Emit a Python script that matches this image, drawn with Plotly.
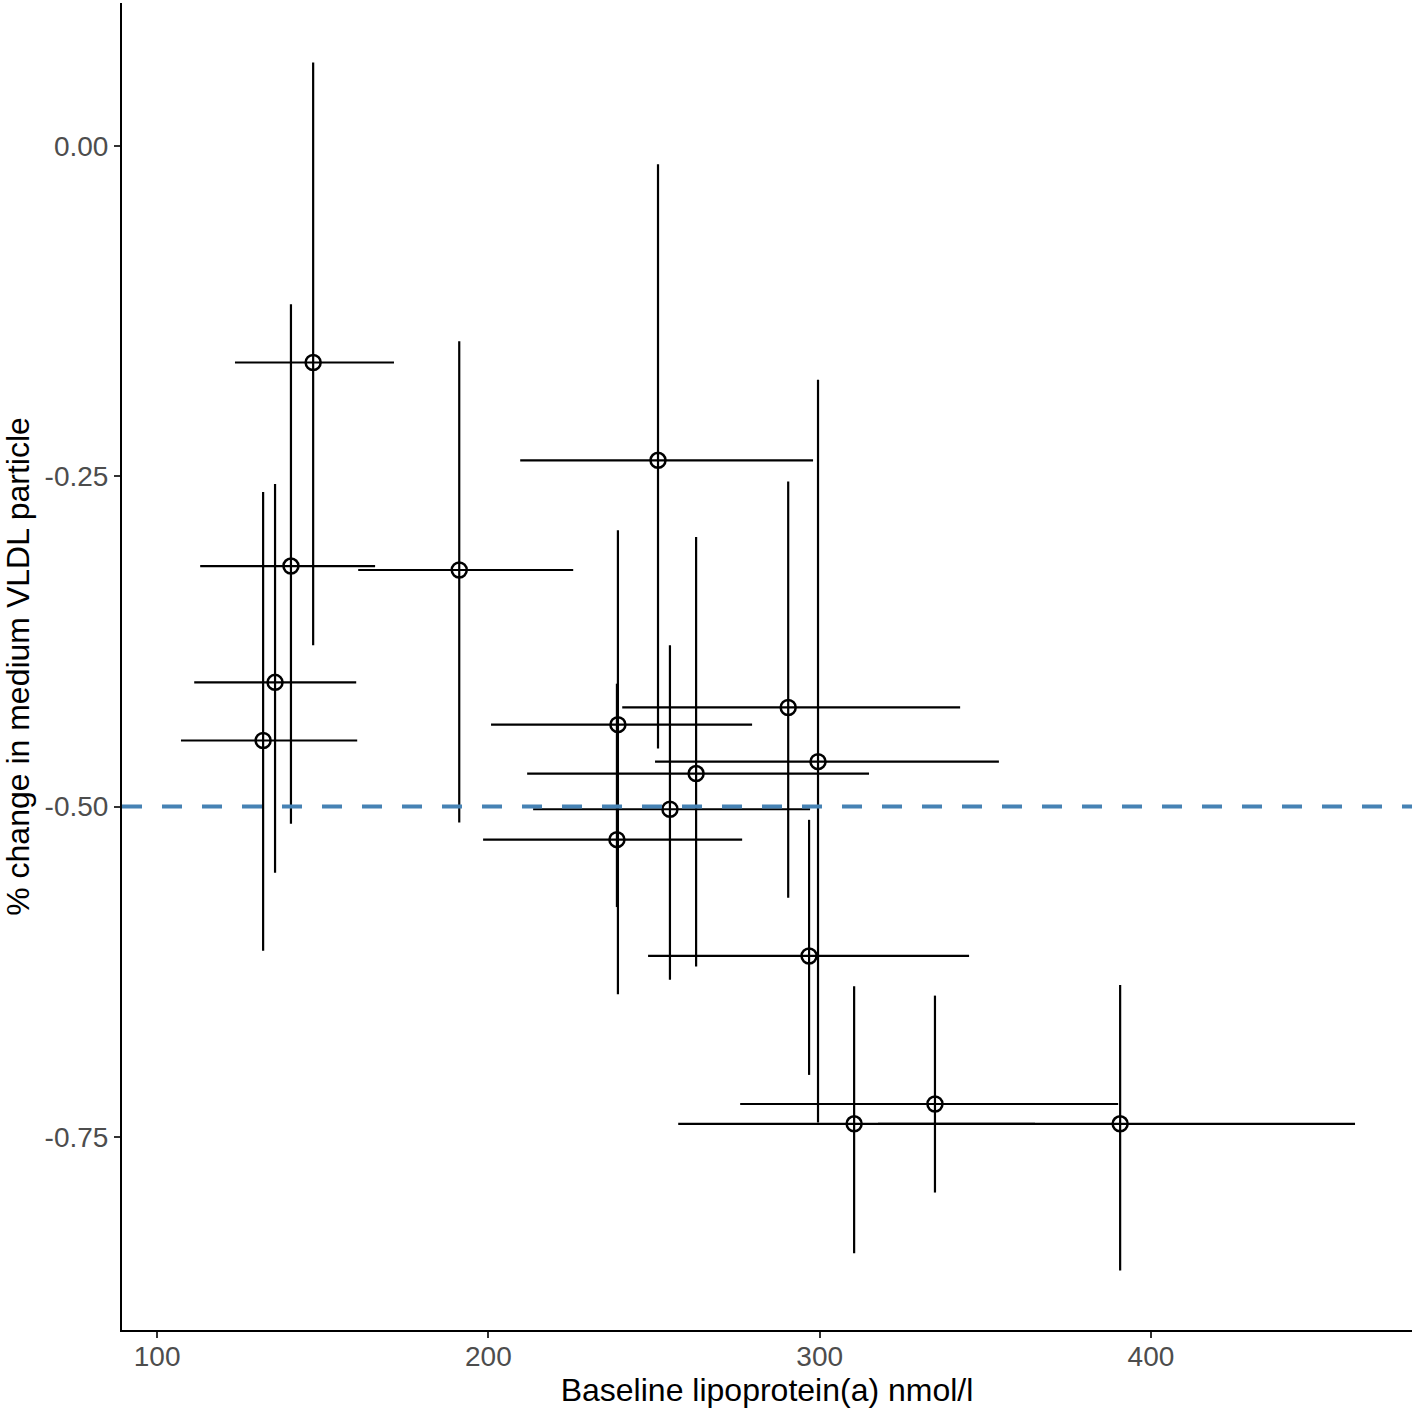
import plotly.graph_objects as go
import numpy as np

# Baseline Lp(a) (nmol/l) and % change in medium VLDL particle, with 95% intervals
lpa = [147.1, 140.4, 135.6, 132.0, 191.2, 251.2, 239.1, 238.8, 262.7, 254.8, 290.5, 299.5, 296.8, 310.4, 334.8, 390.7]
lpa_low = [123.5, 113.0, 111.2, 107.2, 160.7, 209.6, 200.8, 198.4, 211.7, 213.5, 240.4, 250.3, 248.2, 257.3, 276.0, 317.6]
lpa_high = [171.5, 165.8, 160.1, 160.4, 225.6, 298.0, 279.6, 276.6, 314.9, 297.1, 342.4, 354.1, 345.1, 365.0, 390.1, 461.6]
change = [-0.164, -0.318, -0.406, -0.450, -0.321, -0.238, -0.438, -0.525, -0.475, -0.502, -0.425, -0.466, -0.613, -0.740, -0.725, -0.740]
change_low = [-0.378, -0.513, -0.550, -0.609, -0.512, -0.456, -0.642, -0.576, -0.621, -0.631, -0.569, -0.739, -0.703, -0.838, -0.792, -0.851]
change_high = [0.063, -0.120, -0.256, -0.262, -0.148, -0.014, -0.291, -0.407, -0.296, -0.378, -0.254, -0.177, -0.510, -0.636, -0.643, -0.635]
reference_line = -0.5
x_ticks = [100, 200, 300, 400]
y_ticks = [0.0, -0.25, -0.5, -0.75]
y_tick_labels = ["0.00", "-0.25", "-0.50", "-0.75"]

x = np.array(lpa)
y = np.array(change)

fig = go.Figure()

fig.add_trace(go.Scatter(
    x=lpa, y=change, mode="markers",
    marker=dict(symbol="circle-open", size=15, color="black", line=dict(width=2.5, color="black")),
    error_x=dict(type="data", symmetric=False,
                 array=(np.array(lpa_high) - x).tolist(),
                 arrayminus=(x - np.array(lpa_low)).tolist(),
                 width=0, thickness=2.2, color="black"),
    error_y=dict(type="data", symmetric=False,
                 array=(np.array(change_high) - y).tolist(),
                 arrayminus=(y - np.array(change_low)).tolist(),
                 width=0, thickness=2.2, color="black"),
    showlegend=False,
))

fig.add_shape(type="line", xref="paper", x0=0, x1=1, yref="y", y0=reference_line, y1=reference_line,
              line=dict(color="#4682B4", width=4, dash="20px,20px"), layer="above")

fig.update_layout(
    width=1418, height=1412,
    margin=dict(l=122, r=6, t=3, b=82),
    plot_bgcolor="white", paper_bgcolor="white",
    font=dict(family="Liberation Sans, Arial, sans-serif", color="black"),
    xaxis=dict(
        range=[89.4, 478.8], tickvals=x_ticks, ticktext=[str(v) for v in x_ticks],
        showgrid=False, zeroline=False, showline=True, linecolor="black", linewidth=2,
        ticks="outside", ticklen=6, tickwidth=2, tickcolor="#333333",
        tickfont=dict(size=28, color="#4d4d4d"), automargin=False, ticklabelstandoff=-6,
        title=dict(text="Baseline lipoprotein(a) nmol/l", font=dict(size=32, color="black"), standoff=8),
    ),
    yaxis=dict(
        range=[-0.896, 0.108], tickvals=y_ticks, ticktext=y_tick_labels,
        showgrid=False, zeroline=False, showline=True, linecolor="black", linewidth=2,
        ticks="outside", ticklen=6, tickwidth=2, tickcolor="#333333",
        tickfont=dict(size=28, color="#4d4d4d"), automargin=False,
        title=dict(text="% change in medium VLDL particle", font=dict(size=32, color="black"), standoff=8),
    ),
)

fig.write_html(
    "out.html",
    config={"displayModeBar": False},
    post_script="document.body.style.margin='0';document.body.style.padding='0';document.body.style.overflow='hidden';",
)
